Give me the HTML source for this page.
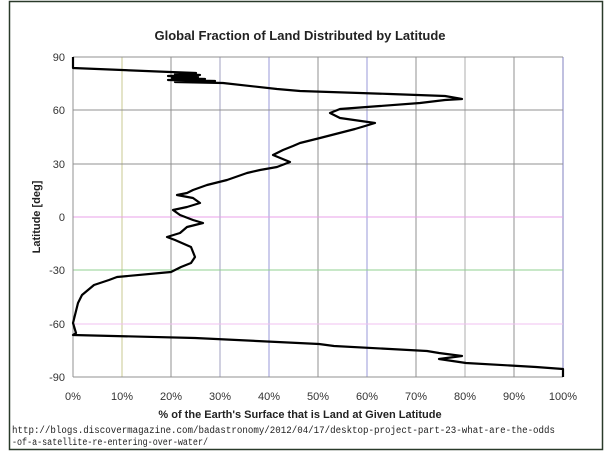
<!DOCTYPE html>
<html><head><style>
body{margin:0;background:#fff;width:610px;height:452px;overflow:hidden}
svg{display:block}
</style></head><body>
<svg width="610" height="452" xmlns="http://www.w3.org/2000/svg" font-family="Liberation Sans, sans-serif">
<rect x="0" y="0" width="610" height="452" fill="#fff"/>
<rect x="9.5" y="1.5" width="593" height="448" fill="none" stroke="#2a3a2a" stroke-width="1.5"/>
<text x="300" y="40" text-anchor="middle" font-size="13" font-weight="bold" fill="#222">Global Fraction of Land Distributed by Latitude</text>
<g stroke-width="1">
<line x1="122" y1="57" x2="122" y2="377" stroke="#c8c890"/>
<line x1="171" y1="57" x2="171" y2="377" stroke="#909090"/>
<line x1="220" y1="57" x2="220" y2="377" stroke="#a0a0c0"/>
<line x1="269" y1="57" x2="269" y2="377" stroke="#9a9ad8"/>
<line x1="318" y1="57" x2="318" y2="377" stroke="#909090"/>
<line x1="367" y1="57" x2="367" y2="377" stroke="#9a9ad8"/>
<line x1="416" y1="57" x2="416" y2="377" stroke="#909090"/>
<line x1="465" y1="57" x2="465" y2="377" stroke="#c8c8c8" stroke-width="1.5"/>
<line x1="514" y1="57" x2="514" y2="377" stroke="#909090"/>
<line x1="563" y1="57" x2="563" y2="377" stroke="#8080c0"/>
<line x1="73" y1="57" x2="563" y2="57" stroke="#909090"/>
<line x1="73" y1="110" x2="563" y2="110" stroke="#909090"/>
<line x1="73" y1="164" x2="563" y2="164" stroke="#909090"/>
<line x1="73" y1="217" x2="563" y2="217" stroke="#e8a0e8"/>
<line x1="73" y1="270" x2="563" y2="270" stroke="#90d090"/>
<line x1="73" y1="324" x2="563" y2="324" stroke="#f0c0f0"/>
<line x1="73" y1="377" x2="563" y2="377" stroke="#909090"/>
<line x1="73" y1="57" x2="73" y2="377" stroke="#909090"/>
</g>
<g font-size="11" fill="#333" text-anchor="end">
<text x="65" y="61">90</text><text x="65" y="114">60</text><text x="65" y="168">30</text>
<text x="65" y="221">0</text><text x="65" y="274">-30</text><text x="65" y="328">-60</text><text x="65" y="381">-90</text>
</g>
<g font-size="11" fill="#333" text-anchor="middle">
<text x="73" y="400">0%</text><text x="122" y="400">10%</text><text x="171" y="400">20%</text><text x="220" y="400">30%</text><text x="269" y="400">40%</text><text x="318" y="400">50%</text><text x="367" y="400">60%</text><text x="416" y="400">70%</text><text x="465" y="400">80%</text><text x="514" y="400">90%</text><text x="563" y="400">100%</text>
</g>
<text x="300" y="418" text-anchor="middle" font-size="11" font-weight="bold" fill="#222">% of the Earth's Surface that is Land at Given Latitude</text>
<text transform="translate(40,217) rotate(-90)" text-anchor="middle" font-size="11" font-weight="bold" fill="#222">Latitude [deg]</text>
<polyline fill="none" stroke="#000" stroke-width="2.2" stroke-linejoin="round" points="
73,57 73,68 170,72 196,73 175,74 200,75 168,76 198,77 172,78 205,79 168,80 215,81 175,82 223,83 277,89 300,91 390,94 445,96 462,99 445,100 420,103 380,106 340,109 330,113 340,118 375,123 355,129 320,138 300,143 293,146 283,150 273,155 290,162 277,167 260,170 247,173 227,180 207,185 193,190 187,193 177,195 193,198 200,203 187,207 173,210 180,215 193,220 203,223 187,227 180,233 167,237 175,240 191,247 195,257 191,263 181,267 171,272 117,277 109,280 94,285 82,295 78,303 75,315 73,323 76,333 73,335 195,338 319,344 334,346 427,351 439,353 462,356 439,359 466,363 536,367 563,369 563,377"/>
<text x="12" y="433" font-family="Liberation Mono, monospace" font-size="10" fill="#222" textLength="543" lengthAdjust="spacingAndGlyphs">http://blogs.discovermagazine.com/badastronomy/2012/04/17/desktop-project-part-23-what-are-the-odds</text>
<text x="12" y="445" font-family="Liberation Mono, monospace" font-size="10" fill="#222" textLength="196" lengthAdjust="spacingAndGlyphs">-of-a-satellite-re-entering-over-water/</text>
</svg>
</body></html>
